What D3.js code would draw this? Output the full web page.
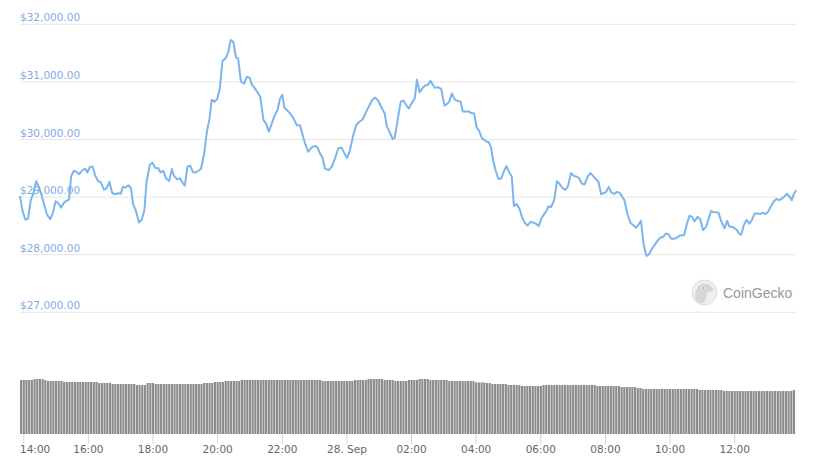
<!DOCTYPE html>
<html><head><meta charset="utf-8">
<script src="https://cdn.jsdelivr.net/npm/d3@7/dist/d3.min.js"></script>
<style>body{margin:0;background:#fff;} svg{display:block;}</style>
</head><body><svg id="chart" width="819" height="474"></svg>
<script>
// minutes after 27 Sep 14:00
const priceMinutes = [-6,-1,4,9,14,19,24,29,34,39,
44,50,55,60,65,70,76,81,85,89,
94,99,104,109,115,119,124,129,134,139,
144,150,155,160,165,170,175,181,185,190,
195,200,204,209,215,220,225,229,235,240,
245,250,255,260,265,271,276,280,286,291,
296,300,305,310,315,320,325,330,336,341,
346,350,355,360,365,370,376,381,385,390,
395,399,404,410,415,420,425,430,435,440,
446,451,456,461,466,472,477,481,485,490,
495,502,508,514,517,523,529,536,542,546,
551,556,560,567,573,579,585,591,596,601,
606,612,618,624,630,637,643,649,653,659,
666,671,675,680,686,690,695,701,706,711,
716,721,727,731,736,741,746,751,756,760,
765,770,776,782,787,791,796,801,807,812,
816,822,827,832,837,842,846,852,858,865,
869,872,877,882,887,892,897,902,907,911,
916,921,926,931,936,942,947,952,957,962,
968,972,975,980,986,991,996,1001,1006,1011,
1017,1022,1027,1032,1037,1042,1048,1053,1058,1063,
1068,1073,1077,1082,1087,1092,1097,1102,1107,1112,
1116,1122,1127,1132,1138,1142,1147,1152,1157,1162,
1167,1172,1178,1183,1188,1193,1198,1203,1207,1212,
1218,1223,1227,1232,1237,1242,1246,1252,1257,1262,
1268,1272,1277,1282,1286,1291,1296,1302,1307,1311,
1316,1321,1325,1330,1333,1338,1343,1348,1353,1358,
1363,1368,1373,1378,1383,1388,1393,1398,1404,1409,
1414,1418,1423,1427,1430,1434];

const priceValues = [28990,28730,28590,28610,28930,29050,29260,29160,29020,28850,
28680,28600,28700,28910,28880,28800,28890,28920,28940,29340,
29440,29420,29380,29440,29480,29410,29510,29510,29350,29260,
29240,29110,29140,29250,29060,29030,29050,29040,29160,29150,
29190,29140,28860,28750,28540,28590,28760,29250,29540,29580,
29490,29490,29410,29440,29310,29260,29470,29350,29290,29310,
29230,29180,29510,29530,29420,29410,29440,29470,29740,30120,
30350,30670,30640,30680,30870,31350,31390,31510,31710,31680,
31410,31390,30990,30950,31070,31060,30930,30870,30800,30730,
30320,30260,30120,30250,30380,30490,30700,30760,30530,30490,
30440,30350,30230,30230,30120,29920,29770,29850,29870,29850,
29740,29660,29480,29450,29510,29660,29830,29840,29750,29660,
29770,30030,30230,30290,30330,30470,30580,30680,30710,30660,
30520,30440,30210,30120,29990,30020,30320,30640,30660,30580,
30520,30610,30700,31020,30800,30870,30920,30930,31000,30940,
30880,30890,30860,30570,30600,30640,30780,30680,30650,30640,
30470,30470,30470,30440,30440,30190,30140,30000,29960,29930,
29830,29630,29450,29300,29300,29420,29520,29420,29340,28830,
28860,28790,28640,28540,28490,28550,28540,28520,28480,28610,
28700,28750,28820,28810,28940,29260,29210,29140,29110,29160,
29400,29350,29340,29310,29220,29200,29340,29400,29350,29300,
29250,29030,29050,29070,29160,29060,29040,29070,29060,28990,
28930,28680,28540,28500,28450,28500,28570,28150,27960,27990,
28080,28150,28230,28280,28290,28350,28340,28260,28260,28270,
28310,28320,28320,28510,28660,28640,28560,28640,28600,28410,
28470,28590,28740,28720,28720,28710,28560,28440,28570,28470,
28470,28440,28410,28340,28330,28500,28590,28520,28590,28700,
28700,28690,28710,28690,28730,28820,28900,28950,28930,28960,
29000,29040,28990,28930,29020,29090];

// 5-minute volume bars (billions), starting 13:54
const volumeValues = [37.8,37.8,37.8,37.8,37.8,38.5,38.5,38.5,38.5,37.8,
37.1,37.1,37.1,37.1,37.1,37.1,36.4,36.4,36.4,36.4,
36.4,36.4,36.4,36.4,36.4,36.4,36.4,36.4,36.4,35.7,
35.7,35.7,35.7,35.7,35.0,35.0,35.0,35.0,35.0,35.0,
35.0,35.0,35.0,34.3,34.3,34.3,34.3,35.7,35.7,35.7,
35.0,35.0,35.0,35.0,35.0,35.0,35.0,35.0,35.0,35.0,
35.0,35.0,35.0,35.0,35.0,35.0,35.0,35.0,35.7,35.7,
35.7,35.7,36.4,36.4,36.4,36.4,37.1,37.1,37.1,37.1,
37.1,37.1,37.8,37.8,37.8,37.8,37.8,37.8,37.8,37.8,
37.8,37.8,37.8,37.8,37.8,37.8,37.8,37.8,37.8,37.8,
37.8,37.8,37.8,37.8,37.8,37.8,37.8,37.8,37.8,37.8,
37.8,37.8,37.1,37.1,37.1,37.1,37.1,37.1,37.1,37.1,
37.1,37.1,37.1,37.1,37.8,37.8,37.8,37.8,37.8,38.5,
38.5,38.5,38.5,38.5,38.5,37.8,37.8,37.8,37.8,37.1,
37.1,37.1,37.1,37.1,37.8,37.8,37.8,37.8,38.5,38.5,
38.5,38.5,37.8,37.8,37.8,37.8,37.8,37.8,37.8,37.1,
37.1,37.1,37.1,37.1,37.1,37.1,37.1,37.1,37.1,36.1,
36.1,36.1,36.1,35.7,35.7,35.0,35.0,35.0,35.0,35.0,
35.0,34.3,34.3,34.3,34.3,34.3,33.6,33.6,33.6,33.6,
33.6,33.6,33.6,33.6,34.3,34.3,34.3,34.3,34.3,34.3,
34.3,34.3,34.3,34.3,34.3,34.3,34.3,34.3,34.3,34.3,
34.3,34.3,34.3,34.3,33.6,33.6,33.6,33.6,33.6,33.6,
33.6,33.6,33.6,32.9,32.9,32.9,32.9,32.9,32.9,32.2,
32.2,31.5,31.5,31.5,31.5,31.5,31.5,31.5,31.5,31.5,
31.5,31.5,31.5,31.5,31.5,31.5,31.5,31.5,31.5,31.5,
31.5,31.5,30.8,30.8,30.8,30.8,30.8,30.8,30.8,30.8,
30.8,30.1,30.1,30.1,30.1,30.1,30.1,30.1,30.1,30.1,
30.1,30.1,30.1,30.1,30.1,30.1,30.1,30.1,30.1,30.1,
30.1,30.1,30.1,30.1,30.1,30.1,30.1,30.8];

const yTickValues = [27000, 28000, 29000, 30000, 31000, 32000];
const xTickHours = [0, 2, 4, 6, 8, 10, 12, 14, 16, 18, 20, 22];
const xTickLabels = ["14:00","16:00","18:00","20:00","22:00","28. Sep","02:00","04:00","06:00","08:00","10:00","12:00"];
const volStartMinute = -6;
const volStepMinutes = 5;

const baseTime = new Date(2021, 8, 27, 14, 0);
const toDate = m => new Date(baseTime.getTime() + m * 60000);

const plotLeft = 20, plotRight = 796;
const svg = d3.select("#chart");
const FONT = "'DejaVu Sans', Verdana, sans-serif";

const x = d3.scaleTime()
  .domain(d3.extent(priceMinutes).map(toDate))
  .range([plotLeft, 795.6]);
const y = d3.scaleLinear().domain([27000, 32000]).range([311.3, 23.3]);
const yVol = d3.scaleLinear().domain([0, d3.max(volumeValues)]).range([434, 379]);

// grid + y labels
const yAxis = d3.axisRight(y).tickValues(yTickValues)
  .tickSize(plotRight - plotLeft).tickFormat(d3.format("$,.2f"));
const gy = svg.append("g").attr("transform", `translate(${plotLeft},0)`).call(yAxis);
gy.select(".domain").remove();
gy.selectAll(".tick line").attr("stroke", "#e6e6e6").attr("stroke-width", 1)
  .attr("transform", "translate(0,0.5)");
gy.selectAll(".tick text").attr("x", 0).attr("y", -2.5).attr("dy", 0)
  .attr("text-anchor", "start").attr("fill", "#84aae6")
  .style("font-family", FONT).style("font-size", "10.5px");

// volume bars
const vol = volumeValues.map((v, i) => ({t0: toDate(volStartMinute + i * volStepMinutes), t1: toDate(volStartMinute + (i + 1) * volStepMinutes), v}));
svg.append("g").selectAll("rect").data(vol).join("rect")
  .attr("x", d => x(d.t0))
  .attr("width", d => (x(d.t1) - x(d.t0)) * 0.8)
  .attr("y", d => yVol(d.v))
  .attr("height", d => yVol(0) - yVol(d.v))
  .attr("fill", "#8c8c8c");

// x axis
const xAxis = d3.axisBottom(x).tickValues(xTickHours.map(h => toDate(h * 60)))
  .tickFormat((d, i) => xTickLabels[i]).tickSize(10).tickSizeOuter(0);
const gx = svg.append("g").attr("transform", "translate(0,434)").call(xAxis);
gx.select(".domain").remove();
gx.selectAll(".tick line").attr("stroke", "#ccd6eb");
gx.selectAll(".tick text").attr("y", 18.5).attr("dy", 0).attr("fill", "#666")
  .style("font-family", FONT).style("font-size", "10.5px")
  .each(function(d, i) {
    if (i === 0) d3.select(this).attr("text-anchor", "start").attr("x", 19.5 - x(d));
  });

// price line
const line = d3.line().x((d, i) => x(toDate(priceMinutes[i]))).y(d => y(d));
svg.append("path").datum(priceValues).attr("d", line)
  .attr("fill", "none").attr("stroke", "#7cb5ec").attr("stroke-width", 2)
  .attr("stroke-linejoin", "round").attr("stroke-linecap", "round");

// CoinGecko watermark
const wm = svg.append("g").attr("transform", "translate(704.5,292.5)");
wm.append("circle").attr("r", 12.5).attr("fill", "#eeeeee").attr("stroke", "#dddddd").attr("stroke-width", 1);
wm.append("path").attr("d", "M-9,7 C-10,0 -8,-7 -2,-8.5 C3,-9.5 6,-7 8,-4.5 C9.5,-2.5 8,-0.5 5,-1 C3,-1.3 2,0 2,3 C2,6 1,9 -2,10.5 C-5,11 -8,10 -9,7 Z")
  .attr("fill", "#d6d6d6");
wm.append("circle").attr("cx", -1.5).attr("cy", -4.5).attr("r", 1.6).attr("fill", "#fafafa");
wm.append("circle").attr("cx", -1.3).attr("cy", -4.5).attr("r", 0.8).attr("fill", "#777");
svg.append("text").attr("x", 723).attr("y", 297.5).text("CoinGecko")
  .attr("fill", "#999999").style("font-family", "'Liberation Sans', Arial, sans-serif").style("font-size", "14px");
</script>
</body></html>
